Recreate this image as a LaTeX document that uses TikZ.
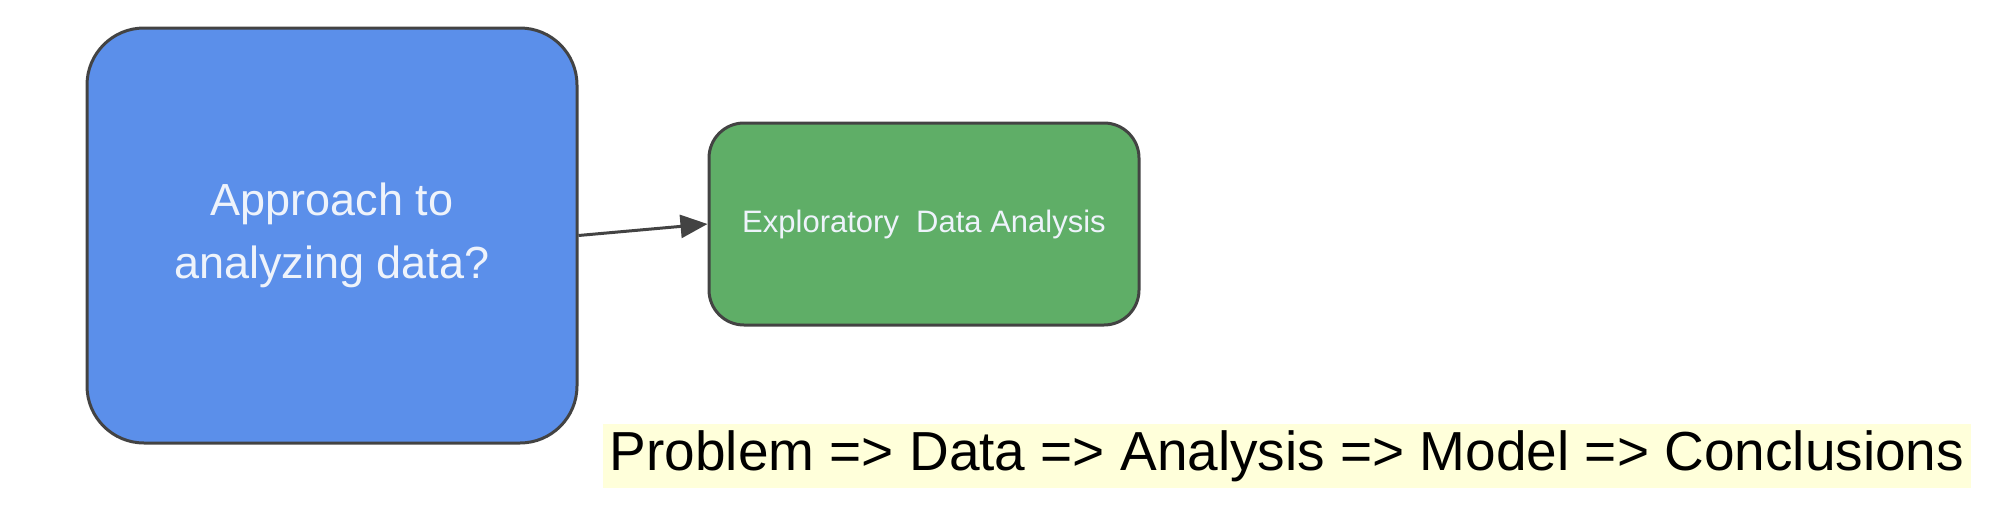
\documentclass[tikz,border=0pt]{standalone}
\usepackage{fontspec}
\setmainfont{Liberation Sans}
\usetikzlibrary{arrows.meta}
\definecolor{boxblue}{HTML}{5B8FEA}
\definecolor{boxgreen}{HTML}{5FAE67}
\definecolor{edgegray}{HTML}{434343}
\definecolor{hiyellow}{HTML}{FFFFDA}
\definecolor{lighttext}{HTML}{EEF3FB}
\begin{document}
\begin{tikzpicture}[x=1pt,y=-1pt,
  bigbox/.style={draw=edgegray, line width=3pt, fill=boxblue, rounded corners=57pt,
    minimum width=490pt, minimum height=415pt, text=lighttext, align=center,
    font=\fontsize{45}{63}\selectfont},
  smallbox/.style={draw=edgegray, line width=3pt, fill=boxgreen, rounded corners=35pt,
    minimum width=430pt, minimum height=202pt, text=lighttext,
    font=\fontsize{31}{36}\selectfont},
  band/.style={fill=hiyellow, minimum width=1368pt, minimum height=64pt, inner sep=0pt,
    text=black, font=\fontsize{55}{60}\selectfont},
  link/.style={draw=edgegray, line width=3pt, -{Triangle[length=27pt,width=23pt]}}
]
\useasboundingbox (0,0) rectangle (1996,522);
\node[bigbox] (approach) at (332,235.5) {Approach to\\analyzing data?};
\node[smallbox] (eda) at (924,224) {Exploratory\ \ Data Analysis};
\node[band] (flow) at (1287,456) {Problem => Data => Analysis => Model => Conclusions};
\draw[link] (approach.east) -- (eda.west);
\end{tikzpicture}
\end{document}
